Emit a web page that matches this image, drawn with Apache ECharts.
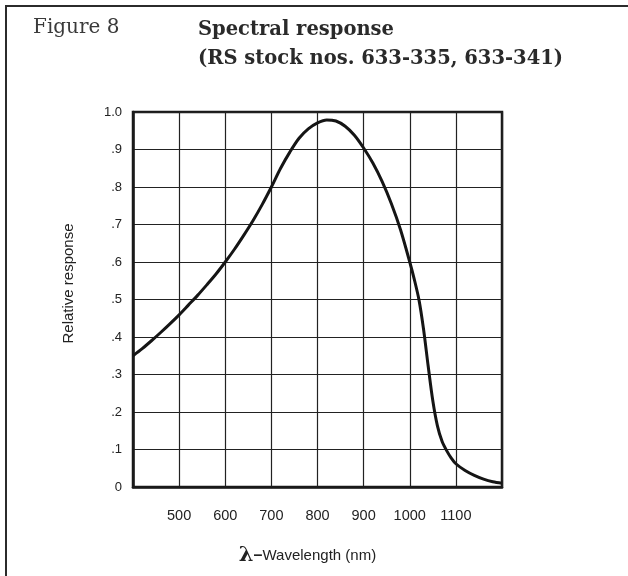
<!DOCTYPE html>
<html>
  <head>
    <meta charset="utf-8">
    <title>Spectral response</title>
    <script src="https://cdn.jsdelivr.net/npm/echarts@6/dist/echarts.min.js" charset="utf-8"></script>
    <style media="screen">
      html, body{
        margin: 0;
        padding: 0;
        background: #fff;
        overflow: hidden;
      }
      #main{
        position: absolute;
        left: 0;
        top: 0;
        width: 628px;
        height: 576px;
      }
      .frame{
        position: absolute;
        left: 5px;
        top: 5px;
        width: 700px;
        height: 700px;
        border-top: 2.5px solid #2b2b2b;
        border-left: 2.5px solid #2b2b2b;
        pointer-events: none;
      }
    </style>
  </head>
  <body>
    <div id="main"></div>
    <div class="frame"></div>
    <script type="text/javascript">
      // 读图得到的数据
      var wavelength = [400, 420, 440, 460, 480, 500, 520, 540, 560, 580, 600, 620, 640, 660, 680, 700, 720, 740, 760, 780, 800, 820, 840, 860, 880, 900, 920, 940, 960, 980, 1000, 1010, 1020, 1030, 1040, 1050, 1060, 1070, 1080, 1090, 1100, 1120, 1140, 1160, 1180, 1200];
      var response = [0.350, 0.369, 0.390, 0.412, 0.435, 0.459, 0.485, 0.511, 0.539, 0.568, 0.600, 0.634, 0.671, 0.710, 0.753, 0.800, 0.850, 0.893, 0.930, 0.955, 0.971, 0.979, 0.976, 0.962, 0.938, 0.904, 0.864, 0.815, 0.756, 0.686, 0.600, 0.553, 0.499, 0.420, 0.322, 0.230, 0.163, 0.122, 0.097, 0.077, 0.062, 0.044, 0.031, 0.021, 0.014, 0.010];
      var xTicks = [500, 600, 700, 800, 900, 1000, 1100];
      var xTickLabels = ['500', '600', '700', '800', '900', '1000', '1100'];
      var yTicks = [0, 0.1, 0.2, 0.3, 0.4, 0.5, 0.6, 0.7, 0.8, 0.9, 1.0];
      var yTickLabels = ['0', '.1', '.2', '.3', '.4', '.5', '.6', '.7', '.8', '.9', '1.0'];

      var points = [];
      for (var i = 0; i < wavelength.length; i++) {
        points.push([wavelength[i], response[i]]);
      }

      function pick(ticks, labels, v){
        for (var j = 0; j < ticks.length; j++) {
          if (Math.abs(ticks[j] - v) < 1e-6) return labels[j];
        }
        return '';
      }

      var myChart = echarts.init(document.getElementById('main'));
      var option = {
        backgroundColor: '#fff',
        animation: false,
        title: [
          {
            text: 'Figure 8',
            left: 28,
            top: 13,
            textStyle: {fontFamily: 'DejaVu Serif', fontWeight: 'normal', fontSize: 20, color: '#3a3a3a'}
          },
          {
            text: 'Spectral response\n(RS stock nos. 633-335, 633-341)',
            left: 193,
            top: 10,
            textStyle: {fontFamily: 'DejaVu Serif', fontWeight: 'bold', fontSize: 19.5, color: '#2a2a2a', lineHeight: 29}
          }
        ],
        grid: {
          left: 133,
          right: 126,
          top: 112,
          bottom: 89,
          show: true,
          borderColor: '#1a1a1a',
          borderWidth: 2.5
        },
        xAxis: {
          type: 'value',
          min: 400,
          max: 1200,
          interval: 100,
          name: '{lam|λ}{dash|–}Wavelength (nm)',
          nameLocation: 'middle',
          nameGap: 58,
          nameTextStyle: {
            fontFamily: 'Liberation Sans',
            fontSize: 15,
            color: '#222',
            padding: [0, 20, 0, 0],
            rich: {
              lam: {fontFamily: 'DejaVu Serif', fontWeight: 'bold', fontSize: 21, color: '#222'},
              dash: {fontFamily: 'Liberation Sans', fontWeight: 'bold', fontSize: 16, color: '#222'}
            }
          },
          axisLine: {show: true, lineStyle: {color: '#1a1a1a', width: 2.5}},
          axisTick: {show: false},
          axisLabel: {
            margin: 21,
            fontFamily: 'Liberation Sans',
            fontSize: 14.5,
            color: '#222',
            formatter: function (v) { return pick(xTicks, xTickLabels, v); }
          },
          splitLine: {show: true, lineStyle: {color: '#222', width: 1.2}}
        },
        yAxis: {
          type: 'value',
          min: 0,
          max: 1,
          interval: 0.1,
          name: 'Relative response',
          nameLocation: 'middle',
          nameGap: 57,
          nameTextStyle: {
            fontFamily: 'Liberation Sans',
            fontSize: 15,
            color: '#222',
            padding: [0, 0, 0, 32]
          },
          axisLine: {show: true, lineStyle: {color: '#1a1a1a', width: 2.5}},
          axisTick: {show: false},
          axisLabel: {
            margin: 11,
            fontFamily: 'Liberation Sans',
            fontSize: 13,
            color: '#222',
            formatter: function (v) { return pick(yTicks, yTickLabels, v); }
          },
          splitLine: {show: true, lineStyle: {color: '#222', width: 1.2}}
        },
        series: [{
          type: 'line',
          data: points,
          smooth: 0.3,
          showSymbol: false,
          lineStyle: {color: '#151515', width: 3},
          clip: true
        }]
      };
      myChart.setOption(option);
    </script>
  </body>
</html>
